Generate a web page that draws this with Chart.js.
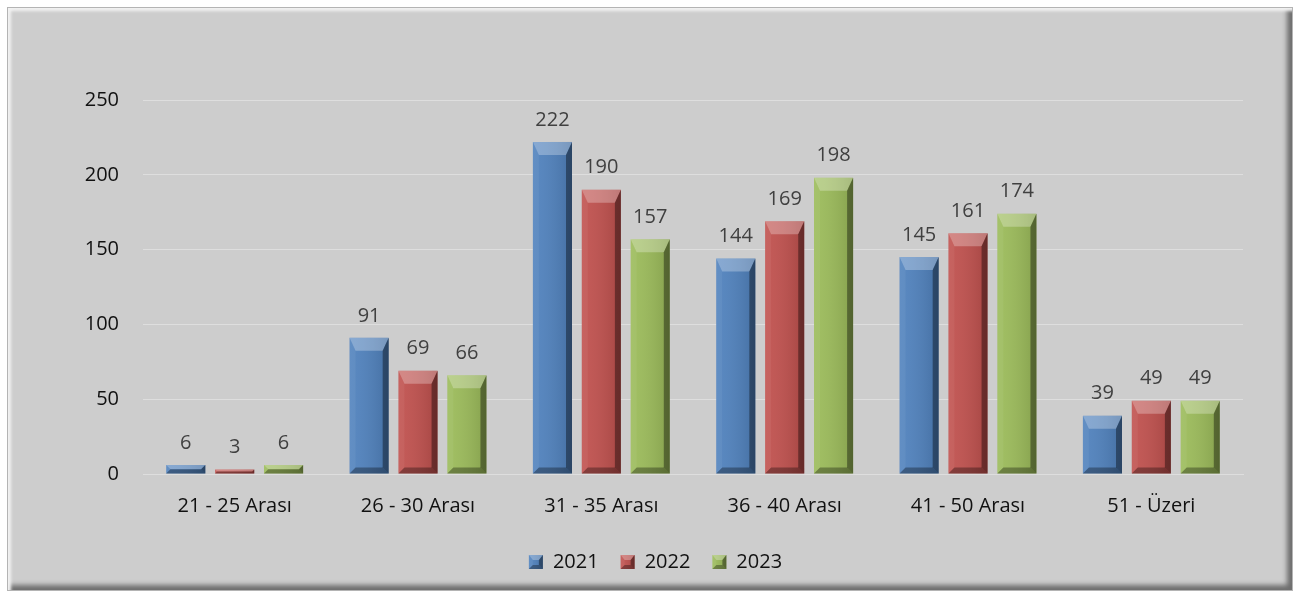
<!DOCTYPE html>
<html>
<head>
<meta charset="utf-8">
<script src="https://cdn.jsdelivr.net/npm/chart.js@4.4.1/dist/chart.umd.min.js"></script>
<style>
  html, body { margin: 0; padding: 0; background: #ffffff; }
  #frame {
    position: absolute; left: 8px; top: 8px; width: 1284px; height: 582px;
    background: #cdcdcd;
    outline: 1px solid #b4b4b4;
    box-shadow: inset 3px 3px 3px #f2f2f2, inset -5px -5px 5px #6e6e6e;
  }
  #myChart { position: absolute; left: 0; top: 0; }
</style>
</head>
<body>
<div id="frame"><canvas id="myChart" width="1284" height="582"></canvas></div>
<script>
var categories = ['21 - 25 Arası', '26 - 30 Arası', '31 - 35 Arası', '36 - 40 Arası', '41 - 50 Arası', '51 - Üzeri'];
var years = ['2021', '2022', '2023'];
var values2021 = [6, 91, 222, 144, 145, 39];
var values2022 = [3, 69, 190, 169, 161, 49];
var values2023 = [6, 66, 157, 198, 174, 49];
var yTicks = [0, 50, 100, 150, 200, 250];
var colors = ['#4f81bd', '#c0504d', '#9bbb59'];

var fontFamily = "'Open Sans', 'Noto Sans', sans-serif";

function bevel(ctx, x0, y0, x1, y1, dSide, dTop) {
    var h = y1 - y0;
    var d = Math.min(dSide, h / 2, (x1 - x0) / 2);
    var dt = Math.min(dTop, h / 2);
    function poly(pts, fill) {
        ctx.beginPath();
        ctx.moveTo(pts[0][0], pts[0][1]);
        for (var k = 1; k < pts.length; k++) ctx.lineTo(pts[k][0], pts[k][1]);
        ctx.closePath();
        ctx.fillStyle = fill;
        ctx.fill();
    }
    var g = ctx.createLinearGradient(x0, 0, x1, 0);
    g.addColorStop(0, 'rgba(255,255,255,0.06)');
    g.addColorStop(1, 'rgba(0,0,0,0.14)');
    ctx.fillStyle = g;
    ctx.fillRect(x0, y0, x1 - x0, h);
    poly([[x0, y0], [x1, y0], [x1 - d, y0 + dt], [x0 + d, y0 + dt]], 'rgba(255,255,255,0.28)');
    poly([[x0, y0], [x0 + d, y0 + dt], [x0 + d, y1 - d], [x0, y1]], 'rgba(255,255,255,0.05)');
    poly([[x1, y0], [x1 - d, y0 + dt], [x1 - d, y1 - d], [x1, y1]], 'rgba(0,0,0,0.38)');
    poly([[x0, y1], [x0 + d, y1 - d], [x1 - d, y1 - d], [x1, y1]], 'rgba(0,0,0,0.32)');
}

// bevel look of the bars, drawn on top of each bar the library placed
var bevelPlugin = {
    id: 'bevel',
    afterDatasetsDraw: function(chart) {
        var ctx = chart.ctx;
        chart.data.datasets.forEach(function(ds, i) {
            chart.getDatasetMeta(i).data.forEach(function(bar) {
                ctx.save();
                bevel(ctx, bar.x - bar.width / 2, bar.y, bar.x + bar.width / 2, bar.base, 6, 13);
                ctx.restore();
            });
        });
    },
    afterDraw: function(chart) {
        // legend swatches get the same bevel
        var ctx = chart.ctx;
        var legend = chart.legend;
        if (!legend || !legend.legendHitBoxes) return;
        legend.legendHitBoxes.forEach(function(box) {
            var s = 14;
            var y = box.top + (box.height - s) / 2;
            ctx.save();
            bevel(ctx, box.left, y, box.left + s, y + s, 4, 5);
            ctx.restore();
        });
    }
};

// value labels above bars
var valueLabels = {
    id: 'valueLabels',
    afterDatasetsDraw: function(chart) {
        var ctx = chart.ctx;
        ctx.save();
        ctx.font = '20px ' + fontFamily;
        ctx.fillStyle = '#404040';
        ctx.textAlign = 'center';
        ctx.textBaseline = 'bottom';
        chart.data.datasets.forEach(function(ds, i) {
            chart.getDatasetMeta(i).data.forEach(function(bar, j) {
                ctx.fillText(ds.data[j], bar.x, bar.y - 12);
            });
        });
        ctx.restore();
    }
};

var ctx = document.getElementById('myChart').getContext('2d');
var myChart = new Chart(ctx, {
    type: 'bar',
    data: {
        labels: categories,
        datasets: [
            { label: years[0], data: values2021, backgroundColor: colors[0] },
            { label: years[1], data: values2022, backgroundColor: colors[1] },
            { label: years[2], data: values2023, backgroundColor: colors[2] }
        ]
    },
    options: {
        responsive: false,
        animation: false,
        layout: { padding: { top: 92, right: 19, bottom: 8, left: 30 } },
        datasets: { bar: { categoryPercentage: 0.8, barPercentage: 0.8 } },
        scales: {
            x: {
                afterFit: function(scale) { scale.height = 56; },
                grid: { display: false },
                border: { color: '#dedede' },
                ticks: { color: '#111111', font: { size: 20, family: fontFamily }, padding: 12 }
            },
            y: {
                min: 0, max: 250,
                afterFit: function(scale) { scale.width = 105; },
                afterBuildTicks: function(scale) { scale.ticks = yTicks.map(function(v) { return { value: v }; }); },
                grid: { color: '#dedede', drawTicks: false },
                border: { display: false },
                ticks: { color: '#111111', font: { size: 20, family: fontFamily }, padding: 24 }
            },
            // empty right-hand spacer so the legend can sit centred on the frame
            spacer: {
                type: 'linear', position: 'right', min: 0, max: 1,
                afterFit: function(scale) { scale.width = 30; },
                grid: { display: false },
                border: { display: false },
                ticks: { display: false }
            }
        },
        plugins: {
            tooltip: { enabled: false },
            legend: {
                position: 'bottom',
                labels: {
                    color: '#111111',
                    font: { size: 20, family: fontFamily },
                    boxWidth: 14, boxHeight: 14, padding: 22
                }
            }
        }
    },
    plugins: [bevelPlugin, valueLabels]
});
</script>
</body>
</html>
